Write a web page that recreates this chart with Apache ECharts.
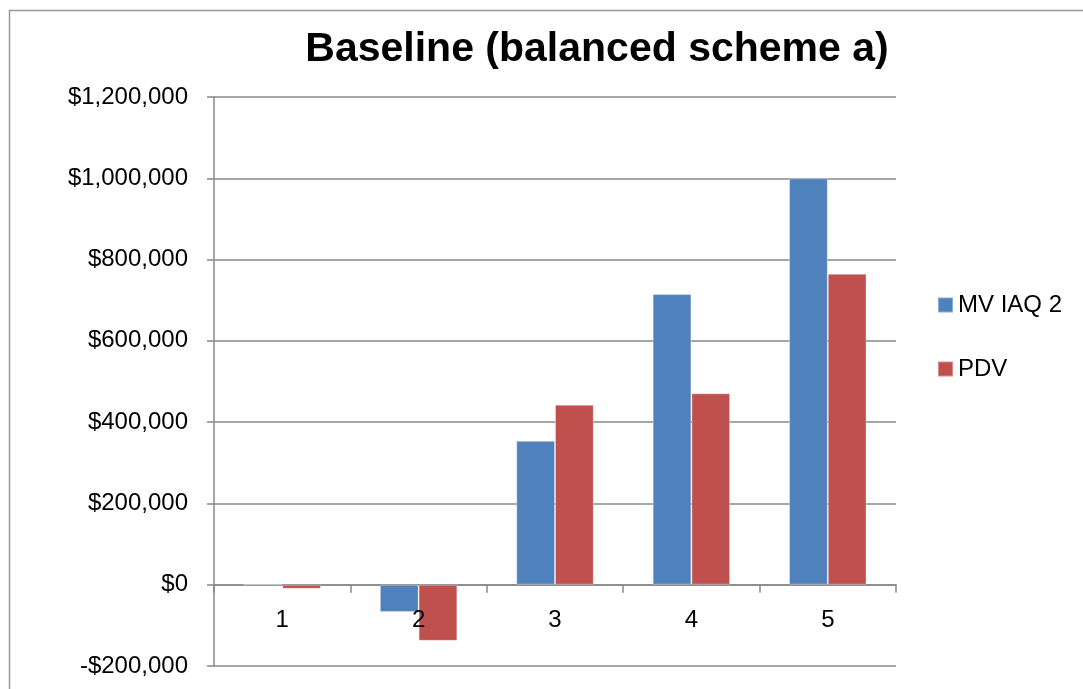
<!DOCTYPE html>
<html>
<head>
<meta charset="utf-8">
<script src="https://cdn.jsdelivr.net/npm/echarts@6/dist/echarts.min.js"></script>
<style>
html,body{margin:0;padding:0;background:#fff;}
#chart{width:1083px;height:689px;}
</style>
</head>
<body>
<div id="chart"></div>
<script>
var categories = ['1', '2', '3', '4', '5'];
var mvIaq2 = [0, -67000, 354000, 715000, 1000000];
var pdv = [-10000, -138000, 443000, 471000, 765000];
var seriesNames = ['MV IAQ 2', 'PDV'];
var titleText = 'Baseline (balanced scheme a)';

function money(v) {
  var s = Math.abs(v).toString().replace(/\B(?=(\d{3})+(?!\d))/g, ',');
  return (v < 0 ? '-$' : '$') + s;
}

var chart = echarts.init(document.getElementById('chart'));
var font = '"Liberation Sans", Arial, sans-serif';
chart.setOption({
  animation: false,
  backgroundColor: '#fff',
  textStyle: { fontFamily: font },
  graphic: [{
    type: 'rect',
    shape: { x: 9.5, y: 10.5, width: 1100, height: 700 },
    style: { fill: 'none', stroke: '#999', lineWidth: 1.5 },
    silent: true
  }],
  title: {
    text: titleText,
    left: 592, top: 24,
    textAlign: 'center',
    textStyle: { fontFamily: font, fontWeight: 'bold', fontSize: 41, color: '#000' }
  },
  legend: {
    orient: 'vertical',
    left: 937, top: 293,
    padding: 0,
    itemWidth: 15, itemHeight: 15,
    itemGap: 40,
    icon: 'rect',
    textStyle: { fontFamily: font, fontSize: 24, color: '#000' },
    data: seriesNames
  },
  grid: { left: 214, right: 187, top: 97, bottom: 23, containLabel: false, outerBoundsMode: 'none' },
  xAxis: [{
    type: 'category',
    data: categories,
    axisLine: { onZero: true, lineStyle: { color: '#888', width: 1.5 } },
    axisTick: { show: true, length: 8, alignWithLabel: false, lineStyle: { color: '#888', width: 1.5 } },
    axisLabel: { show: false },
    splitLine: { show: false }
  }, {
    type: 'category',
    data: categories,
    position: 'bottom',
    offset: -81,
    z: 10,
    axisLine: { show: false, onZero: false },
    axisTick: { show: false },
    axisLabel: { margin: 23, fontSize: 24, color: '#000', fontFamily: font },
    splitLine: { show: false }
  }],
  yAxis: {
    type: 'value',
    min: -200000, max: 1200000, interval: 200000,
    axisLine: { show: true, lineStyle: { color: '#888', width: 1.5 } },
    axisTick: { show: true, length: 7, lineStyle: { color: '#888', width: 1.5 } },
    axisLabel: { margin: 26, fontSize: 24, color: '#000', fontFamily: font, formatter: money },
    splitLine: { show: true, lineStyle: { color: '#888', width: 1.5 } }
  },
  series: [
    { name: seriesNames[0], type: 'bar', xAxisIndex: 0, data: mvIaq2, barWidth: '28.4%', barGap: '0%',
      itemStyle: { color: '#4F81BD', borderColor: 'rgba(255,255,255,0.35)', borderWidth: 1 } },
    { name: seriesNames[1], type: 'bar', xAxisIndex: 0, data: pdv, barWidth: '28.4%', barGap: '0%',
      itemStyle: { color: '#C0504D', borderColor: 'rgba(255,255,255,0.35)', borderWidth: 1 } }
  ]
});
</script>
</body>
</html>
